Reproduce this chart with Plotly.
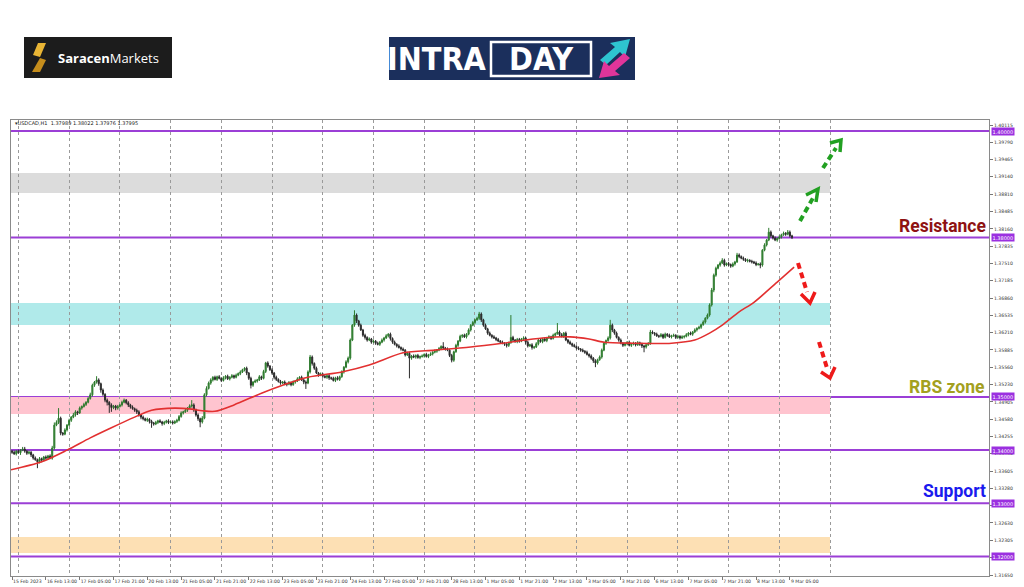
import plotly.graph_objects as go
import numpy as np

# ---------------- data (prices in pips above 1.3000) ----------------
close_pips = [
    396,393,398,395,400,402,398,394,396,391,385,382,378,384,381,387,385,389,385,404,
    447,452,460,432,430,438,447,456,462,466,472,470,479,482,486,490,497,504,522,528,
    532,525,513,505,494,490,485,480,483,479,482,485,490,494,489,485,481,478,475,472,
    466,462,459,456,458,454,451,449,452,455,453,450,452,455,452,453,451,454,456,463,
    470,472,475,479,483,485,476,466,459,453,460,504,516,526,532,537,533,538,535,531,
    536,539,534,537,540,537,541,544,547,551,554,545,535,522,528,530,532,538,535,548,
    564,558,551,545,537,533,529,526,528,525,524,527,523,528,530,534,537,532,528,526,
    547,575,563,554,545,541,543,539,537,540,536,535,531,536,533,538,547,556,566,573,
    607,635,654,643,635,626,616,612,607,609,603,605,601,599,603,607,611,615,618,610,
    603,599,596,593,590,588,579,582,573,577,575,578,574,576,577,580,576,579,581,584,
    586,588,591,595,592,590,588,578,569,585,597,605,614,616,613,618,626,635,640,645,
    648,656,645,635,628,620,616,613,611,608,605,603,601,599,597,602,612,607,604,608,
    605,609,611,603,596,598,593,594,600,607,604,609,606,611,613,610,616,619,622,617,
    614,620,607,603,600,597,595,592,590,588,586,584,580,577,573,568,564,570,575,588,
    601,606,611,635,626,620,612,607,601,597,600,603,597,599,601,598,602,599,596,594,
    598,601,622,620,618,615,614,617,612,618,616,613,615,616,612,614,611,613,614,617,
    620,618,622,626,629,631,636,641,648,654,673,701,729,742,748,752,757,748,751,749,
    746,750,754,767,764,761,759,756,757,755,754,752,749,750,748,776,786,795,810,803,
    799,795,798,801,805,808,806,810,803,800,
]
open_pips = [
    398,396,393,398,395,400,402,398,394,396,391,385,382,378,384,381,387,385,389,385,
    404,447,452,460,432,430,438,447,456,462,466,472,470,479,482,486,490,497,504,522,
    528,532,525,513,505,494,490,485,480,483,479,482,485,490,494,489,485,481,478,475,
    472,466,462,459,456,458,454,451,449,452,455,453,450,452,455,452,453,451,454,456,
    463,470,472,475,479,483,485,476,466,459,453,460,504,516,526,532,537,533,538,535,
    531,536,539,534,537,540,537,541,544,547,551,554,545,535,522,528,530,532,538,535,
    548,564,558,551,545,537,533,529,526,528,525,524,527,523,528,530,534,537,532,528,
    526,547,575,563,554,545,541,543,539,537,540,536,535,531,536,533,538,547,556,566,
    573,607,635,654,643,635,626,616,612,607,609,603,605,601,599,603,607,611,615,618,
    610,603,599,596,593,590,588,579,582,573,577,575,578,574,576,577,580,576,579,581,
    584,586,588,591,595,592,590,588,578,569,585,597,605,614,616,613,618,626,635,640,
    645,648,656,645,635,628,620,616,613,611,608,605,603,601,599,597,602,612,607,604,
    608,605,609,611,603,596,598,593,594,600,607,604,609,606,611,613,610,616,619,622,
    617,614,620,607,603,600,597,595,592,590,588,586,584,580,577,573,568,564,570,575,
    588,601,606,611,635,626,620,612,607,601,597,600,603,597,599,601,598,602,599,596,
    594,598,601,622,620,618,615,614,617,612,618,616,613,615,616,612,614,611,613,614,
    617,620,618,622,626,629,631,636,641,648,654,673,701,729,742,748,752,757,748,751,
    749,746,750,754,767,764,761,759,756,757,755,754,752,749,750,748,776,786,795,810,
    803,799,795,798,801,805,808,806,810,803,
]
upper_wick = [
    2,3,2,3,2,4,4,2,3,2,2,3,2,3,2,2,3,2,3,4,
    5,4,19,3,2,3,2,3,2,4,3,2,3,2,3,2,3,4,3,2,
    7,3,2,3,2,3,2,3,2,2,3,2,3,3,2,3,2,3,2,3,
    3,2,3,2,3,2,3,2,3,2,3,2,3,2,3,2,3,2,3,3,
    3,2,3,2,3,9,3,2,3,2,4,3,4,3,3,2,3,2,3,2,
    3,2,3,2,3,2,3,2,3,2,2,3,2,3,2,3,2,3,2,3,
    2,3,2,3,2,3,2,3,2,3,2,3,2,3,2,3,2,3,2,3,
    3,4,3,2,3,2,3,2,3,2,3,2,3,2,3,2,3,2,3,3,
    3,2,9,3,2,3,2,3,2,3,2,3,2,3,2,3,2,3,2,3,
    2,3,2,3,2,3,2,3,3,2,3,2,3,2,3,2,3,2,3,2,
    3,2,3,2,8,2,3,2,3,2,3,2,3,2,3,2,3,2,3,2,
    3,4,3,2,3,2,3,2,3,2,3,2,3,2,3,2,42,3,2,3,
    3,2,3,2,3,2,3,2,3,2,3,2,3,2,3,2,3,2,17,3,
    3,2,3,2,3,2,3,2,3,2,3,2,3,2,3,2,3,2,3,3,
    3,2,3,10,3,2,3,2,3,2,3,2,3,2,3,2,3,2,3,2,
    3,2,4,3,2,3,2,3,2,3,2,3,2,3,2,3,2,3,2,3,
    2,3,2,3,2,3,2,3,2,3,3,4,3,3,2,3,4,3,2,3,
    2,3,2,4,3,2,3,2,3,2,3,2,3,2,3,2,3,2,8,3,
    2,3,2,3,2,3,2,4,3,2,
]
lower_wick = [
    3,2,3,2,4,2,3,3,2,4,3,2,12,3,4,2,3,3,2,3,
    3,2,3,4,3,2,3,2,3,2,3,4,2,3,2,3,2,2,3,3,
    3,4,5,3,4,6,15,8,3,4,3,2,3,2,3,4,3,2,3,4,
    3,4,3,2,3,4,9,3,2,3,2,4,3,2,3,2,3,2,3,2,
    2,3,2,3,2,3,4,3,4,10,3,2,3,2,3,3,2,3,2,3,
    2,3,2,3,2,3,2,2,3,2,3,4,3,6,3,2,3,2,3,2,
    3,3,2,3,4,3,2,3,2,3,4,2,3,2,3,2,3,2,4,11,
    2,3,4,3,2,3,2,3,2,3,4,3,2,3,2,3,2,3,2,3,
    3,2,3,4,3,2,3,4,3,2,3,2,3,2,3,2,3,2,3,4,
    3,2,3,2,3,2,3,2,38,3,2,3,2,3,2,3,2,3,2,3,
    2,3,2,3,2,3,2,3,4,3,2,3,2,3,2,3,2,3,2,3,
    2,3,4,3,2,3,2,3,2,3,2,3,2,3,4,3,2,3,2,3,
    3,2,3,4,3,2,4,3,2,3,2,3,2,3,2,3,2,3,2,3,
    2,3,2,3,2,3,2,3,2,3,2,3,2,3,3,4,8,3,2,3,
    2,3,2,3,4,3,2,3,2,3,2,3,2,3,2,3,2,3,4,10,
    3,2,3,2,3,2,3,2,3,2,3,2,3,2,3,2,3,2,3,2,
    3,2,3,2,3,2,3,2,3,2,3,3,4,3,2,3,2,3,2,3,
    3,2,3,2,3,2,3,2,3,2,3,2,3,2,6,3,2,3,2,3,
    3,2,3,2,3,2,3,2,3,3,
]

# moving average (bar index, pips)
ma_idx = [-0.5, 14, 26, 37, 47, 58, 66, 77, 85, 90, 96, 105, 118, 128, 140, 156, 169,
          185, 200, 217, 232, 251, 264, 273, 280, 294, 312, 323, 330, 336, 344, 351, 362, 370]
ma_pips = [363, 378, 400, 423, 442, 462, 475, 479, 477, 474, 473, 485, 507, 522, 537, 547, 560,
           583, 588, 594, 601, 611, 613, 609, 603, 601, 601, 607, 620, 635, 660, 678, 716, 744]

# x-axis labels (every 16 hourly bars)
x_tick_idx = list(range(0, 369, 16))
x_tick_text = ["15 Feb 2023", "16 Feb 13:00", "17 Feb 05:00", "17 Feb 21:00", "20 Feb 13:00",
               "21 Feb 05:00", "21 Feb 21:00", "22 Feb 13:00", "23 Feb 05:00", "23 Feb 21:00",
               "24 Feb 13:00", "27 Feb 05:00", "27 Feb 21:00", "28 Feb 13:00", "1 Mar 05:00",
               "1 Mar 21:00", "2 Mar 13:00", "3 Mar 05:00", "3 Mar 21:00", "6 Mar 13:00",
               "7 Mar 05:00", "7 Mar 21:00", "8 Mar 13:00", "9 Mar 05:00"]
grid_idx = list(range(3, 388, 24))

# price-axis labels
y_tick_vals = [1.40115, 1.39790, 1.39465, 1.39140, 1.38810, 1.38485, 1.38160, 1.37835, 1.37510,
               1.37185, 1.36860, 1.36535, 1.36210, 1.35885, 1.35560, 1.35230, 1.34905, 1.34580,
               1.34255, 1.33930, 1.33605, 1.33280, 1.32955, 1.32630, 1.32305, 1.31980, 1.31650]

# horizontal levels and zones
level_prices = [1.40000, 1.38000, 1.35000, 1.34000, 1.33000, 1.32000]
zone_low = [1.38836, 1.36353, 1.34679, 1.32064]
zone_high = [1.39212, 1.36767, 1.35000, 1.32365]
zone_end_idx = 387
zone_colors = ["#dcdcdc", "#b0eaea", "#ffc4cf", "#fde0b4"]

# ---------------- build ----------------
N = len(close_pips)
xs = list(range(N))
o = 1.3 + np.array(open_pips) / 10000.0
c = 1.3 + np.array(close_pips) / 10000.0
h = np.maximum(o, c) + np.array(upper_wick) / 10000.0
l = np.minimum(o, c) - np.array(lower_wick) / 10000.0

W, H = 1024, 587
L, R, T, B = 11, 35, 120, 11
PW, PH = W - L - R, H - T - B


def px(x):
    return (x - L) / PW


def py(y):
    return (H - B - y) / PH


fig = go.Figure()

# zones
for lo, hi, col in zip(zone_low, zone_high, zone_colors):
    fig.add_shape(type="rect", xref="x", yref="y", x0=-0.5, x1=zone_end_idx, y0=lo, y1=hi,
                  fillcolor=col, line_width=0, layer="below")

# level lines
PURPLE = "#9b3fd6"
for lv in level_prices:
    fig.add_shape(type="line", xref="paper", yref="y", x0=0, x1=1, y0=lv, y1=lv,
                  line=dict(color=PURPLE, width=2), layer="below")
    fig.add_annotation(xref="paper", yref="y", x=1.002, y=lv, xanchor="left", yanchor="middle",
                       text=f"{lv:.5f}", showarrow=False, bgcolor="#9b30e0",
                       font=dict(size=5, color="white", family="DejaVu Sans"), borderpad=0.5)

fig.add_trace(go.Candlestick(
    x=xs, open=o, high=h, low=l, close=c,
    increasing=dict(line=dict(color="#2d7a2d", width=1), fillcolor="#3a8f3a"),
    decreasing=dict(line=dict(color="#2b2b2b", width=1), fillcolor="#2b2b2b"),
    whiskerwidth=0, showlegend=False, hoverinfo="skip"))

fig.add_trace(go.Scatter(x=ma_idx, y=1.3 + np.array(ma_pips) / 10000.0, mode="lines",
                         line=dict(color="#e23030", width=1.6, shape="spline", smoothing=0.8),
                         showlegend=False, hoverinfo="skip"))

fig.update_layout(
    width=W, height=H, margin=dict(l=L, r=R, t=T, b=B),
    paper_bgcolor="white", plot_bgcolor="white",
    xaxis=dict(range=[-0.5, 462.2], rangeslider=dict(visible=False), showgrid=False,
               zeroline=False, tickvals=x_tick_idx, ticktext=x_tick_text, tickangle=0,
               ticklabelposition="outside right", ticks="outside", ticklen=3, tickcolor="#777",
               tickfont=dict(size=4.6, color="#333", family="DejaVu Sans"),
               showline=True, linecolor="#8a8a8a", linewidth=1, mirror=True, automargin=False,
               minor=dict(tickvals=grid_idx, showgrid=True, gridcolor="#9a9a9a",
                          griddash="dot", gridwidth=1, ticks="")),
    yaxis=dict(range=[1.31632, 1.40209], side="right", showgrid=False, zeroline=False,
               tickvals=y_tick_vals, ticktext=[f"{v:.5f}" for v in y_tick_vals],
               ticks="outside", ticklen=3, tickcolor="#777",
               tickfont=dict(size=4.6, color="#333", family="DejaVu Sans"),
               showline=True, linecolor="#8a8a8a", linewidth=1, mirror=True, automargin=False),
)

# header text of the chart
fig.add_annotation(xref="paper", yref="paper", x=px(13), y=py(123), xanchor="left", yanchor="middle",
                   text="▾USDCAD,H1  1.37989 1.38022 1.37976 1.37995", showarrow=False,
                   font=dict(size=5, color="#222", family="DejaVu Sans"))

# labels
fig.add_annotation(xref="paper", yref="paper", x=px(988), y=py(226), xanchor="right", yanchor="middle",
                   text="<b>Resistance</b>", showarrow=False,
                   font=dict(size=17.5, color="#8e1212", family="Roboto"))
fig.add_annotation(xref="paper", yref="paper", x=px(986), y=py(387), xanchor="right", yanchor="middle",
                   text="<b>RBS zone</b>", showarrow=False,
                   font=dict(size=17.5, color="#a3a020", family="Roboto"))
fig.add_annotation(xref="paper", yref="paper", x=px(988), y=py(491), xanchor="right", yanchor="middle",
                   text="<b>Support</b>", showarrow=False,
                   font=dict(size=17.5, color="#1a1aee", family="Roboto"))

# dashed arrows (pixel geometry)
arrows = [
    ("#22a022", (800, 221), (813, 198), [(806, 195), (818, 189), (816, 202)]),
    ("#22a022", (823, 168), (836, 148), [(830, 143), (841, 140), (840, 152)]),
    ("#ee1a1a", (798, 263), (807, 292), [(801, 294), (810, 303), (815, 292)]),
    ("#ee1a1a", (819, 342), (827, 368), [(821, 372), (830, 378), (835, 367)]),
]
for col, a, b, chev in arrows:
    fig.add_shape(type="line", xref="paper", yref="paper", x0=px(a[0]), y0=py(a[1]),
                  x1=px(b[0]), y1=py(b[1]), line=dict(color=col, width=4, dash="6px,4px"))
    path = "M {} {} L {} {} L {} {}".format(px(chev[0][0]), py(chev[0][1]), px(chev[1][0]),
                                            py(chev[1][1]), px(chev[2][0]), py(chev[2][1]))
    fig.add_shape(type="path", xref="paper", yref="paper", path=path,
                  line=dict(color=col, width=3.5))

# ---------------- logos ----------------
def rect(x0, y0, x1, y1, fill, line_color=None, lw=0):
    fig.add_shape(type="rect", xref="paper", yref="paper", x0=px(x0), x1=px(x1), y0=py(y0), y1=py(y1),
                  fillcolor=fill, line=dict(color=line_color or fill, width=lw))


def poly(points, fill):
    path = "M " + " L ".join(f"{px(x)} {py(y)}" for x, y in points) + " Z"
    fig.add_shape(type="path", xref="paper", yref="paper", path=path, fillcolor=fill, line_width=0)


rect(24, 37, 172, 78, "#1c1c1c")
poly([(38, 43), (46, 43), (40, 57), (33, 55)], "#e9b535")
poly([(40, 58), (46, 60), (40, 72), (32, 72)], "#c58d1c")
fig.add_annotation(xref="paper", yref="paper", x=px(56), y=py(57.5), xanchor="left", yanchor="middle",
                   text="<b>Saracen</b>Markets", showarrow=False,
                   font=dict(size=13, color="white", family="Open Sans"))

rect(389, 37, 635, 80, "#1b2f5c")
rect(491, 42, 591, 76, "#1b2f5c", "white", 2.5)
fig.add_annotation(xref="paper", yref="paper", x=px(489), y=py(59), xanchor="right", yanchor="middle",
                   text="<b>INTRA</b>", showarrow=False,
                   font=dict(size=32, color="white", family="DejaVu Sans Condensed"))
fig.add_annotation(xref="paper", yref="paper", x=px(541), y=py(59), xanchor="center", yanchor="middle",
                   text="<b>DAY</b>", showarrow=False,
                   font=dict(size=32, color="white", family="DejaVu Sans Condensed"))
poly([(600, 60), (615, 47), (610, 43), (630, 39), (625, 57), (620, 52), (606, 65)], "#2ec4d0")
poly([(630, 58), (615, 71), (620, 75), (599, 78), (604, 61), (609, 66), (624, 53)], "#e0359a")

fig.write_html("out.html", config={"displayModeBar": False},
               post_script="document.body.style.margin='0';document.body.style.overflow='hidden';")
